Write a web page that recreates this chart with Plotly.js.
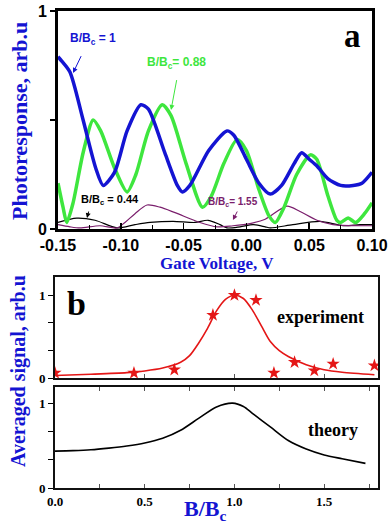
<!DOCTYPE html>
<html><head><meta charset="utf-8">
<script src="https://cdn.plot.ly/plotly-3.0.1.min.js"></script>
<style>html,body{margin:0;padding:0;background:#fff;}#chart{width:389px;height:524px;}</style>
</head><body><div id="chart"></div>
<script>
// Panel a: photoresponse vs gate voltage
const blueV = [-0.150,-0.147,-0.1405,-0.130,-0.120,-0.114,-0.105,-0.095,-0.084,-0.078,-0.065,-0.055,-0.051,-0.045,-0.030,-0.0155,-0.010,0.000,0.010,0.019,0.028,0.038,0.044,0.050,0.056,0.065,0.075,0.085,0.092,0.100];
const blueR = [0.79,0.77,0.72,0.50,0.28,0.20,0.26,0.45,0.57,0.55,0.35,0.20,0.17,0.20,0.36,0.45,0.43,0.32,0.21,0.16,0.20,0.30,0.35,0.32,0.29,0.23,0.20,0.20,0.21,0.26];
const greenV = [-0.150,-0.146,-0.143,-0.138,-0.130,-0.122,-0.116,-0.105,-0.095,-0.088,-0.078,-0.067,-0.060,-0.048,-0.035,-0.028,-0.018,-0.0075,0.000,0.010,0.018,0.023,0.030,0.040,0.051,0.056,0.065,0.072,0.075,0.081,0.087,0.094,0.100];
const greenR = [0.21,0.10,0.03,0.12,0.35,0.50,0.45,0.28,0.17,0.25,0.45,0.57,0.52,0.30,0.10,0.15,0.30,0.41,0.36,0.18,0.06,0.03,0.10,0.25,0.34,0.32,0.15,0.04,0.03,0.05,0.03,0.07,0.12];
const blackV = [-0.150,-0.135,-0.1205,-0.103,-0.0887,-0.0767,-0.0584,-0.041,-0.0306,-0.021,-0.0155,-0.005,0.0053,0.015,0.019,0.037,0.0586,0.077,0.0905,0.100];
const blackR = [0.03,0.05,0.04,0.005,0.02,0.03,0.035,0.03,0.04,0.02,0.005,0.01,0.02,0.01,0.005,0.02,0.035,0.015,0.02,0.02];
const purpleV = [-0.150,-0.1405,-0.1325,-0.1166,-0.103,-0.0967,-0.0887,-0.0791,-0.0688,-0.0568,-0.037,-0.0234,-0.0107,0.0029,0.015,0.0323,0.0427,0.0562,0.069,0.100];
const purpleR = [0.02,0.01,0.005,0.015,0.005,0.03,0.07,0.11,0.10,0.075,0.03,0.01,0.015,0.025,0.045,0.105,0.08,0.04,0.02,0.015];
const gateTicks = [-0.15,-0.10,-0.05,0.00,0.05,0.10];
const gateTickText = ["-0.15","-0.10","-0.05","0.00","0.05","0.10"];

// Panel b: averaged signal vs B/Bc
const expB = [0.0,0.44,0.665,0.88,1.0,1.12,1.22,1.335,1.445,1.55,1.78];
const expS = [0.06,0.06,0.10,0.76,1.0,0.94,0.06,0.19,0.09,0.17,0.15];
const fitB = [0.0,0.2,0.4,0.5,0.6,0.7,0.75,0.8,0.85,0.9,0.95,1.0,1.05,1.1,1.15,1.2,1.25,1.3,1.4,1.5,1.6,1.78];
const fitS = [0.03,0.045,0.065,0.085,0.12,0.19,0.27,0.42,0.60,0.81,0.95,1.0,0.96,0.82,0.63,0.44,0.33,0.26,0.16,0.10,0.07,0.04];
const theoB = [0.0,0.1,0.2,0.3,0.4,0.5,0.6,0.7,0.8,0.9,0.99,1.05,1.1,1.2,1.3,1.4,1.5,1.6,1.73];
const theoS = [0.435,0.44,0.45,0.47,0.495,0.53,0.585,0.68,0.82,0.955,1.0,0.96,0.88,0.72,0.56,0.46,0.39,0.345,0.29];
const bTicks = [0,0.25,0.5,0.75,1.0,1.25,1.5,1.75];
const bTickText = ["0.0","","0.5","","1.0","","1.5",""];
const sTicks = [0,0.33,0.67,1];
const sTickText = ["0","","","1"];

const BLUE = "#1414d2", GREEN = "#3ee63e", PURPLE = "#7a1e6c", RED = "#e41616";
const serif = "Liberation Serif, Times New Roman, serif";
const sans = "Liberation Sans, Arial, sans-serif";

const traces = [
  {x: blackV, y: blackR, mode:'lines', line:{color:'#000', width:1.2, shape:'spline', smoothing:0.8}, xaxis:'x', yaxis:'y'},
  {x: purpleV, y: purpleR, mode:'lines', line:{color:PURPLE, width:1.2, shape:'spline', smoothing:0.8}, xaxis:'x', yaxis:'y'},
  {x: greenV, y: greenR, mode:'lines', line:{color:GREEN, width:3.5, shape:'spline', smoothing:0.7}, xaxis:'x', yaxis:'y'},
  {x: blueV, y: blueR, mode:'lines', line:{color:BLUE, width:3.5, shape:'spline', smoothing:0.7}, xaxis:'x', yaxis:'y'},
  {x: fitB, y: fitS, mode:'lines', line:{color:RED, width:1.6, shape:'spline', smoothing:0.8}, xaxis:'x2', yaxis:'y2'},
  {x: expB, y: expS, mode:'markers', marker:{symbol:'star', size:10, color:RED}, xaxis:'x2', yaxis:'y2'},
  {x: theoB, y: theoS, mode:'lines', line:{color:'#000', width:1.6, shape:'spline', smoothing:0.8}, xaxis:'x3', yaxis:'y3'}
];

const W = 389, H = 524;
const px = v => v / W, py = v => 1 - v / H;

function arrow(xh, yh, xt, yt, color, xr, yr){
  return {x:xh, y:yh, ax:xt, ay:yt, xref:xr, yref:yr, axref:xr, ayref:yr, text:'', showarrow:true,
          arrowhead:2, arrowsize:1, arrowwidth:1, arrowcolor:color};
}
function label(x, y, text, font, extra){
  return Object.assign({xref:'paper', yref:'paper', x:x, y:y, text:text, showarrow:false,
    xanchor:'center', yanchor:'middle', font:font}, extra || {});
}

const layout = {
  width: W, height: H, margin:{l:0,r:0,t:0,b:0}, showlegend:false,
  paper_bgcolor:'#fff', plot_bgcolor:'#fff',
  xaxis:{domain:[px(58), px(372)], range:[-0.15,0.10], tickvals:gateTicks, ticktext:gateTickText,
    ticks:'inside', ticklen:6, tickwidth:1.5, tickcolor:'#000',
    minor:{ticks:'inside', ticklen:4, dtick:0.025, tick0:-0.15, tickcolor:'#000', tickwidth:1},
    showline:true, linecolor:'#000', linewidth:3, mirror:true, showgrid:false, zeroline:false,
    tickfont:{family:sans, size:16, color:'#000', weight:'bold'}, anchor:'y'},
  yaxis:{domain:[py(229), py(11)], range:[0,1], tickvals:[0,0.5,1], ticktext:["0","","1"],
    ticks:'outside', ticklen:5, tickwidth:2, tickcolor:'#000',
    showline:true, linecolor:'#000', linewidth:3, mirror:true, showgrid:false, zeroline:false,
    tickfont:{family:sans, size:16, color:'#000', weight:'bold'}, anchor:'x'},
  xaxis2:{domain:[px(55), px(378)], range:[0,1.8], tickvals:[0.5,1.0,1.5], showticklabels:false,
    ticks:'inside', ticklen:4, tickwidth:1, tickcolor:'#555',
    showline:true, linecolor:'#111', linewidth:2, mirror:true, showgrid:false, zeroline:false, anchor:'y2'},
  yaxis2:{domain:[py(378), py(277)], range:[0,1.22], tickvals:sTicks, ticktext:sTickText,
    ticks:'outside', ticklen:5, tickwidth:1, tickcolor:'#000',
    showline:true, linecolor:'#111', linewidth:2, mirror:true, showgrid:false, zeroline:false,
    tickfont:{family:serif, size:13, color:'#000', weight:'bold'}, anchor:'x2'},
  xaxis3:{domain:[px(55), px(378)], range:[0,1.8], tickvals:bTicks, ticktext:bTickText,
    ticks:'inside', ticklen:4, tickwidth:1, tickcolor:'#555',
    showline:true, linecolor:'#111', linewidth:2, mirror:'ticks', showgrid:false, zeroline:false,
    tickfont:{family:serif, size:13, color:'#000', weight:'bold'}, anchor:'y3'},
  yaxis3:{domain:[py(488), py(387)], range:[0,1.19], tickvals:sTicks, ticktext:sTickText,
    ticks:'outside', ticklen:5, tickwidth:1, tickcolor:'#000',
    showline:true, linecolor:'#111', linewidth:2, mirror:true, showgrid:false, zeroline:false,
    tickfont:{family:serif, size:13, color:'#000', weight:'bold'}, anchor:'x3'},
  annotations:[
    label(px(19), py(121), '<b>Photoresponse, arb.u</b>', {family:serif, size:22, color:BLUE}, {textangle:-90}),
    label(px(217), py(263), '<b>Gate Voltage, V</b>', {family:serif, size:17, color:BLUE}),
    label(px(352), py(36), '<b>a</b>', {family:serif, size:33, color:'#000'}),
    {xref:'x', yref:'y', x:-0.122, y:0.87, text:'<b>B/B<sub>c</sub> = 1</b>', showarrow:false,
      font:{family:sans, size:12, color:BLUE}},
    arrow(-0.138, 0.716, -0.131, 0.80, BLUE, 'x', 'y'),
    {xref:'x', yref:'y', x:-0.0553, y:0.76, text:'<b>B/B<sub>c</sub>= 0.88</b>', showarrow:false,
      font:{family:sans, size:12, color:GREEN}},
    arrow(-0.060, 0.546, -0.0553, 0.69, GREEN, 'x', 'y'),
    {xref:'x', yref:'y', x:-0.1086, y:0.133, text:'<b>B/B<sub>c</sub> = 0.44</b>', showarrow:false,
      font:{family:sans, size:11, color:'#000'}},
    arrow(-0.1269, 0.05, -0.1253, 0.087, '#000', 'x', 'y'),
    {xref:'x', yref:'y', x:-0.0107, y:0.124, text:'<b>B/B<sub>c</sub>= 1.55</b>', showarrow:false,
      font:{family:sans, size:10, color:PURPLE}},
    arrow(-0.0107, 0.041, -0.0067, 0.087, PURPLE, 'x', 'y'),
    label(px(18), py(371), '<b>Averaged signal, arb.u</b>', {family:serif, size:20, color:BLUE}, {textangle:-90}),
    label(px(76), py(303), '<b>b</b>', {family:serif, size:34, color:'#000'}),
    label(px(320), py(317), '<b>experiment</b>', {family:serif, size:18, color:'#000'}),
    label(px(333), py(430), '<b>theory</b>', {family:serif, size:18, color:'#000'}),
    label(px(205), py(510), '<b>B/B<sub>c</sub></b>', {family:serif, size:22, color:BLUE})
  ]
};

Plotly.newPlot('chart', traces, layout, {staticPlot:true, displayModeBar:false});
</script></body></html>
